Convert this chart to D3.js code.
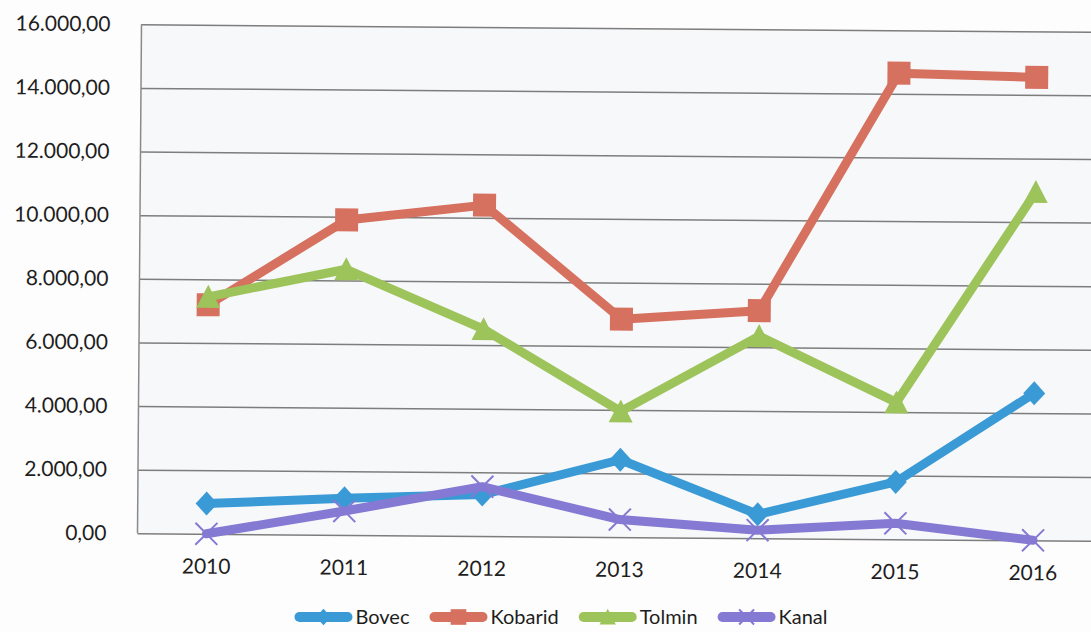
<!DOCTYPE html>
<html>
<head>
<meta charset="utf-8">
<script src="https://cdn.jsdelivr.net/npm/d3@7"></script>
<style>
  html, body { margin: 0; padding: 0; background: #fdfdfd; }
  svg { display: block; }
  text { font-family: Lato, "Open Sans", sans-serif; fill: #1e1e1e; }
</style>
</head>
<body>
<svg id="chart" width="1091" height="632"></svg>
<script>
// ---- data ----
const years = ["2010", "2011", "2012", "2013", "2014", "2015", "2016"];
const bovec = [950, 1150, 1300, 2430, 750, 1800, 4620];
const kobarid = [7200, 9900, 10400, 6850, 7150, 14650, 14550];
const tolmin = [7450, 8350, 6500, 3950, 6350, 4300, 10950];
const kanal = [0, 750, 1550, 550, 250, 500, 0];
const seriesNames = ["Bovec", "Kobarid", "Tolmin", "Kanal"];
const yTicks = [0, 2000, 4000, 6000, 8000, 10000, 12000, 14000, 16000];

(function () {
const seriesValues = [bovec, kobarid, tolmin, kanal];
const colors = ["#3a9ad6", "#d6705f", "#9dc35b", "#8479d3"];
const markerTypes = ["diamond", "square", "triangle", "x"];

const svg = d3.select("#chart");
const root = svg.append("g").attr("transform", "rotate(0.45 615 280)");

const pLeft = 139.5, pRight = 1104, pTop = 28, pBottom = 537;
const x = d3.scaleBand().domain(years).range([pLeft, pRight]);
const cx = d => x(d) + x.bandwidth() / 2;
const y = d3.scaleLinear().domain([0, 16000]).range([pBottom, pTop]);

const loc = d3.formatLocale({decimal: ",", thousands: ".", grouping: [3], currency: ["", ""]});
const fmt = loc.format(",.2f");

// plot background
root.append("rect")
  .attr("x", pLeft).attr("y", pTop)
  .attr("width", pRight - pLeft).attr("height", pBottom - pTop)
  .attr("fill", "#f7f8fa");

// gridlines
root.append("g")
  .attr("transform", `translate(${pLeft},0)`)
  .call(d3.axisLeft(y).tickValues(yTicks).tickSize(-(pRight - pLeft)).tickFormat(""))
  .call(g => g.select(".domain").remove())
  .call(g => g.selectAll("line").attr("stroke", "#7d7d7d").attr("stroke-width", 1.5));

// left axis line
root.append("line")
  .attr("x1", pLeft).attr("x2", pLeft)
  .attr("y1", y(16000)).attr("y2", y(0))
  .attr("stroke", "#8a8a8a").attr("stroke-width", 1.5);

// y axis labels
root.append("g")
  .attr("transform", `translate(${pLeft},0)`)
  .call(d3.axisLeft(y).tickValues(yTicks).tickSize(0).tickPadding(31).tickFormat(fmt))
  .call(g => g.select(".domain").remove())
  .call(g => g.selectAll("text").style("font-size", "21px").style("font-family", "Lato, sans-serif").attr("fill", "#1e1e1e"));

// x axis labels
root.append("g")
  .attr("transform", `translate(0,${pBottom})`)
  .call(d3.axisBottom(x).tickSize(0).tickPadding(25))
  .call(g => g.select(".domain").remove())
  .call(g => g.selectAll("text").style("font-size", "21px").style("font-family", "Lato, sans-serif").attr("fill", "#1e1e1e"));

function drawMarker(g, type, color, s) {
  if (type === "diamond") {
    g.append("path").attr("d", `M0,${-12*s}L${11*s},0L0,${12*s}L${-11*s},0Z`).attr("fill", color);
  } else if (type === "square") {
    g.append("rect").attr("x", -11.5*s).attr("y", -11.5*s).attr("width", 23*s).attr("height", 23*s).attr("fill", color);
  } else if (type === "triangle") {
    g.append("path").attr("d", `M0,${-12*s}L${12*s},${11*s}L${-12*s},${11*s}Z`).attr("fill", color);
  } else {
    g.append("path").attr("d", `M${-11*s},${-11*s}L${11*s},${11*s}M${11*s},${-11*s}L${-11*s},${11*s}`)
      .attr("stroke", color).attr("stroke-width", 2).attr("fill", "none");
  }
}

const line = d3.line().x((d, i) => cx(years[i])).y(d => y(d));

seriesValues.forEach((vals, si) => {
  const g = root.append("g").attr("class", "series");
  g.append("path")
    .attr("d", line(vals))
    .attr("fill", "none")
    .attr("stroke", colors[si])
    .attr("stroke-width", 9)
    .attr("stroke-linejoin", "round")
    .attr("stroke-linecap", "round");
  vals.forEach((v, i) => {
    const m = g.append("g").attr("transform", `translate(${cx(years[i])},${y(v)})`);
    drawMarker(m, markerTypes[si], colors[si], 1);
  });
});

// legend (not rotated so its text stays within the frame)
const legend = svg.append("g").attr("class", "legend");
const legY = 617;
const lineLen = 58, textGap = 3, itemGap = 20;
const items = [];
seriesNames.forEach((name, si) => {
  const it = legend.append("g");
  it.append("line")
    .attr("x1", 5).attr("x2", lineLen - 5)
    .attr("y1", 0).attr("y2", 0)
    .attr("stroke", colors[si]).attr("stroke-width", 10).attr("stroke-linecap", "round");
  const mk = it.append("g").attr("transform", `translate(${lineLen/2},0)`);
  drawMarker(mk, markerTypes[si], colors[si], 0.68);
  const t = it.append("text")
    .attr("x", lineLen + textGap).attr("y", 0).attr("dy", "0.36em")
    .style("font-size", "20px")
    .text(name);
  items.push({g: it, w: lineLen + textGap + t.node().getComputedTextLength()});
});
const totalW = d3.sum(items, d => d.w) + itemGap * (items.length - 1);
let lx = 561 - totalW / 2;
items.forEach(d => {
  d.g.attr("transform", `translate(${lx},${legY})`);
  lx += d.w + itemGap;
});
})();
</script>
</body>
</html>
